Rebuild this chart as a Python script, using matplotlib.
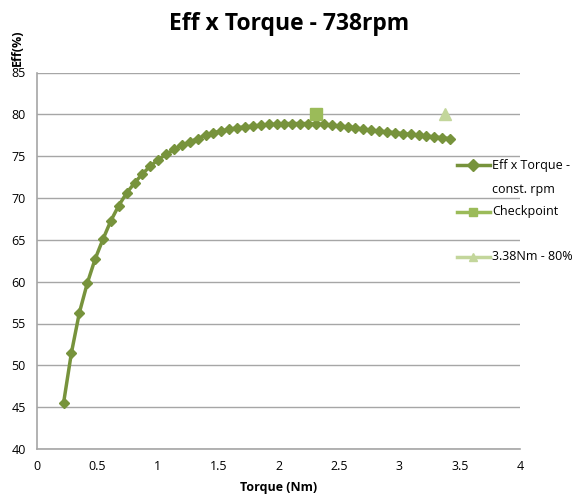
import matplotlib
matplotlib.use("Agg")
import matplotlib.pyplot as plt
from matplotlib.lines import Line2D

# efficiency curve at 738 rpm
torque = [0.22, 0.285, 0.351, 0.416, 0.481, 0.547, 0.612, 0.677, 0.742, 0.808,
          0.873, 0.938, 1.004, 1.069, 1.134, 1.200, 1.265, 1.330, 1.395, 1.461,
          1.526, 1.591, 1.657, 1.722, 1.787, 1.853, 1.918, 1.983, 2.048, 2.114,
          2.179, 2.244, 2.310, 2.375, 2.440, 2.506, 2.571, 2.636, 2.701, 2.767,
          2.832, 2.897, 2.963, 3.028, 3.093, 3.159, 3.224, 3.289, 3.354, 3.420]
eff = [45.5, 51.5, 56.3, 59.8, 62.7, 65.1, 67.3, 69.1, 70.6, 71.8,
       72.9, 73.8, 74.6, 75.2, 75.8, 76.3, 76.7, 77.1, 77.5, 77.8,
       78.0, 78.2, 78.4, 78.5, 78.6, 78.7, 78.8, 78.8, 78.9, 78.9,
       78.9, 78.9, 78.8, 78.8, 78.7, 78.6, 78.5, 78.4, 78.2, 78.1,
       78.0, 77.9, 77.8, 77.7, 77.6, 77.5, 77.4, 77.3, 77.2, 77.1]

check_x = [2.31]
check_y = [80]
target_x = [3.38]
target_y = [80]

labels = ['Eff x Torque -', 'Checkpoint', '3.38Nm - 80%']
colors = ['#77933C', '#9BBB59', '#C3D69B']
markers = ['D', 's', '^']

plt.rcParams['font.family'] = ['Open Sans', 'DejaVu Sans']

W, H = 578, 500
fig = plt.figure(figsize=(5.78, 5.0), dpi=100)
ax = fig.add_axes([0.064, 0.102, 0.836, 0.753])

ax.plot(torque, eff, color=colors[0], lw=2.5, marker='D', ms=5)
ax.plot(check_x, check_y, color=colors[1], marker='s', ms=8, ls='none')
ax.plot(target_x, target_y, color=colors[2], marker='^', ms=8, ls='none')

ax.set_xlim(0, 4)
ax.set_ylim(40, 85)
ax.set_xticks([0, 0.5, 1, 1.5, 2, 2.5, 3, 3.5, 4])
ax.set_xticklabels(['0', '0.5', '1', '1.5', '2', '2.5', '3', '3.5', '4'])
ax.set_yticks(range(40, 86, 5))
ax.grid(axis='y', color='#a6a6a6', lw=1)
ax.set_axisbelow(True)
for s in ['top', 'right']:
    ax.spines[s].set_visible(False)
for s in ['left', 'bottom']:
    ax.spines[s].set_color('#a6a6a6')
    ax.spines[s].set_linewidth(1.2)
ax.tick_params(length=0, labelsize=9, pad=8)

fig.suptitle('Eff x Torque - 738rpm', x=0.5, y=0.975, fontsize=16.5, fontweight='bold')
ax.set_xlabel('Torque (Nm)', fontsize=9, fontweight='bold', labelpad=6)
fig.text(0.03, 0.905, 'Eff(%)', rotation=90, ha='center', va='center',
         fontsize=9, fontweight='bold')

# excel style legend drawn by hand (handle sits on first text line)
rows = [165, 212, 257]
for lab, c, m, yp in zip(labels, colors, markers, rows):
    fy = 1 - yp / H
    fig.add_artist(Line2D([457 / W, 490 / W], [fy, fy], color=c, lw=2.5,
                          transform=fig.transFigure))
    fig.add_artist(Line2D([473.5 / W], [fy], color=c, marker=m, ms=6,
                          transform=fig.transFigure))
    fig.text(492 / W, fy, lab, fontsize=9, va='center', ha='left')
fig.text(492 / W, 1 - 189 / H, 'const. rpm', fontsize=9, va='center', ha='left')

fig.savefig('out.png', dpi=100)
